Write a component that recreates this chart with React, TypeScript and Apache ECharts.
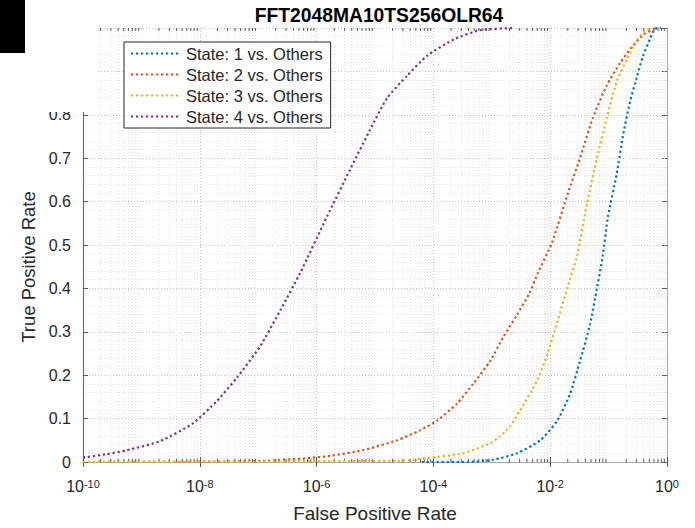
import React, { useEffect, useRef } from "react";
import * as echarts from "echarts";

const chartTitle = "FFT2048MA10TS256OLR64";
const xAxisName = "False Positive Rate";
const yAxisName = "True Positive Rate";
const seriesNames = ["State: 1 vs. Others", "State: 2 vs. Others", "State: 3 vs. Others", "State: 4 vs. Others"];
const seriesColors = ["#0072BD", "#D95319", "#EDB120", "#7E2F8E"];

// FPR given as base-10 exponents, TPR as fraction
const s1Exp = [-4.2, -3.42, -2.98, -2.57, -2.17, -1.88, -1.66, -1.49, -1.32, -1.2, -1.1, -1.01, -0.86, -0.75, -0.63, -0.51, -0.41, -0.29, -0.21, -0.1];
const s1Tpr = [0.0, 0.0, 0.005, 0.02, 0.05, 0.095, 0.157, 0.232, 0.316, 0.4, 0.475, 0.566, 0.664, 0.755, 0.832, 0.89, 0.936, 0.975, 0.998, 1.0];

const s2Exp = [-10, -7.5, -6.85, -6.24, -5.77, -5.21, -4.62, -4.23, -3.94, -3.6, -3.32, -3.03, -2.81, -2.57, -2.35, -2.21, -1.97, -1.7, -1.49, -1.27, -1.03, -0.8, -0.58, -0.4, -0.2];
const s2Tpr = [0.0, 0.001, 0.003, 0.008, 0.014, 0.027, 0.05, 0.073, 0.095, 0.134, 0.18, 0.232, 0.286, 0.339, 0.39, 0.436, 0.505, 0.618, 0.7, 0.793, 0.868, 0.92, 0.96, 0.985, 1.0];

const s3Exp = [-10, -4.5, -4.06, -3.49, -3.03, -2.86, -2.69, -2.52, -2.23, -2.05, -1.88, -1.71, -1.54, -1.37, -1.2, -1.03, -0.86, -0.68, -0.55, -0.4, -0.28];
const s3Tpr = [0.0, 0.003, 0.01, 0.02, 0.043, 0.059, 0.082, 0.118, 0.186, 0.248, 0.323, 0.4, 0.475, 0.595, 0.7, 0.793, 0.877, 0.93, 0.965, 0.99, 1.0];

const s4Exp = [-10, -9.6, -9.25, -8.68, -8.12, -7.71, -7.36, -6.97, -6.62, -6.28, -5.82, -5.43, -5.09, -4.79, -4.45, -4.11, -3.63, -3.2, -2.64];
const s4Tpr = [0.01, 0.018, 0.027, 0.048, 0.089, 0.14, 0.195, 0.266, 0.35, 0.436, 0.566, 0.673, 0.764, 0.839, 0.89, 0.936, 0.975, 0.995, 1.0];

const decades = [-10, -9, -8, -7, -6, -5, -4, -3, -2, -1];
const minorMultipliers = [2, 3, 4, 5, 6, 7, 8, 9];

const FONT = "'Liberation Sans', Arial, Helvetica, sans-serif";

function toPoints(exps: number[], tprs: number[]) {
  return exps.map((e, i) => [Math.pow(10, e), tprs[i]]);
}

export default function App() {
  const ref = useRef<HTMLDivElement>(null);
  useEffect(() => {
    if (!ref.current) return;
    const chart = echarts.init(ref.current, undefined, { renderer: "svg" });
    const allData = [toPoints(s1Exp, s1Tpr), toPoints(s2Exp, s2Tpr), toPoints(s3Exp, s3Tpr), toPoints(s4Exp, s4Tpr)];
    const minorData: number[][] = [];
    decades.forEach((d) => minorMultipliers.forEach((m) => minorData.push([m * Math.pow(10, d)])));

    const lineSeries = allData.map((data, i) => ({
      name: seriesNames[i],
      type: "line",
      data,
      showSymbol: false,
      symbol: "none",
      smooth: 0.2,
      clip: true,
      z: 5,
      lineStyle: { color: seriesColors[i], width: 2.2, type: [2.2, 2.8] },
      itemStyle: { color: seriesColors[i] },
    }));

    const option: any = {
      animation: false,
      backgroundColor: "#ffffff",
      textStyle: { fontFamily: FONT },
      title: {
        text: chartTitle,
        left: 374,
        top: 1,
        textAlign: "center",
        textStyle: { fontSize: 19.3, fontWeight: "bold", color: "#000", fontFamily: FONT },
      },
      grid: { left: 83, right: 28, top: 28, bottom: 59, containLabel: false },
      legend: {
        data: seriesNames,
        orient: "vertical",
        left: 124,
        top: 42,
        backgroundColor: "#ffffff",
        borderColor: "#262626",
        borderWidth: 1,
        borderRadius: 0,
        padding: [3, 8, 3, 6],
        itemWidth: 50,
        itemHeight: 13,
        itemGap: 4,
        itemStyle: { opacity: 0 },
        textStyle: { fontSize: 16.5, lineHeight: 17, color: "#262626", fontFamily: FONT },
        z: 20,
      },
      xAxis: [
        {
          type: "log",
          logBase: 10,
          min: 1e-10,
          max: 1,
          interval: 2,
          name: xAxisName,
          nameLocation: "middle",
          nameGap: 42,
          nameTextStyle: { fontSize: 19, color: "#262626", fontFamily: FONT },
          axisLine: { lineStyle: { color: "#5a5a5a", width: 1.2 } },
          axisTick: { inside: true, length: 5, lineStyle: { color: "#5a5a5a" } },
          axisLabel: {
            margin: 16,
            formatter: (v: number) => `{b|10}{s|${Math.round(Math.log10(v))}}`,
            rich: {
              b: { fontSize: 16, color: "#262626", fontFamily: FONT, padding: [7, 0, 0, 0], lineHeight: 16, verticalAlign: "bottom" },
              s: { fontSize: 11, color: "#262626", fontFamily: FONT, lineHeight: 11, verticalAlign: "top" },
            },
          },
          splitLine: { show: true, lineStyle: { color: "#c2c2c2", type: [1, 2], width: 1 } },
        },
        {
          type: "log",
          logBase: 10,
          min: 1e-10,
          max: 1,
          interval: 2,
          position: "top",
          axisLine: { show: true, lineStyle: { color: "#a8a8a8", width: 1 } },
          axisTick: { inside: true, length: 5, lineStyle: { color: "#5a5a5a" } },
          axisLabel: { show: false },
          splitLine: { show: false },
        },
      ],
      yAxis: [
        {
          type: "value",
          min: 0,
          max: 1,
          interval: 0.1,
          name: yAxisName,
          nameLocation: "middle",
          nameGap: 39,
          nameTextStyle: { fontSize: 18.5, color: "#262626", fontFamily: FONT, padding: [0, 44, 0, 0] },
          axisLine: { show: true, lineStyle: { color: "#6e6e6e", width: 1.2 } },
          axisTick: { inside: true, length: 5, lineStyle: { color: "#5a5a5a" } },
          axisLabel: {
            fontSize: 16,
            color: "#262626",
            fontFamily: FONT,
            margin: 12,
            formatter: (v: number) => String(Math.round(v * 10) / 10),
          },
          splitLine: { show: true, lineStyle: { color: "#c2c2c2", type: [1, 2], width: 1 } },
          minorTick: { show: false, splitNumber: 5 },
          minorSplitLine: { show: true, lineStyle: { color: "#e2e2e2", type: [1, 2], width: 1 } },
        },
        {
          type: "value",
          min: 0,
          max: 1,
          interval: 0.1,
          position: "right",
          axisLine: { show: true, lineStyle: { color: "#a8a8a8", width: 1 } },
          axisTick: { inside: true, length: 5, lineStyle: { color: "#5a5a5a" } },
          axisLabel: { show: false },
          splitLine: { show: false },
        },
      ],
      series: [
        {
          name: "minorGrid",
          type: "custom",
          silent: true,
          z: 1,
          data: minorData,
          encode: { x: 0 },
          renderItem: (params: any, api: any) => {
            const xv = api.value(0);
            const p0 = api.coord([xv, 0]);
            const p1 = api.coord([xv, 1]);
            return {
              type: "group",
              children: [
                {
                  type: "line",
                  shape: { x1: p0[0], y1: p0[1], x2: p1[0], y2: p1[1] },
                  style: { stroke: "#e0e0e0", lineWidth: 1, lineDash: [1, 2] },
                },
                {
                  type: "line",
                  shape: { x1: p0[0], y1: p0[1], x2: p0[0], y2: p0[1] - 3 },
                  style: { stroke: "#5a5a5a", lineWidth: 1 },
                },
                {
                  type: "line",
                  shape: { x1: p1[0], y1: p1[1], x2: p1[0], y2: p1[1] + 3 },
                  style: { stroke: "#5a5a5a", lineWidth: 1 },
                },
              ],
            };
          },
        },
        ...lineSeries,
      ],
      graphic: [
        { type: "rect", z: 100, shape: { x: 0, y: 0, width: 96, height: 112 }, style: { fill: "#ffffff" } },
        { type: "rect", z: 101, shape: { x: 0, y: 0, width: 25, height: 53 }, style: { fill: "#000000" } },
      ],
    };
    chart.setOption(option);
    return () => chart.dispose();
  }, []);
  return <div ref={ref} style={{ position: "fixed", left: 0, top: 0, width: 695, height: 528 }} />;
}
